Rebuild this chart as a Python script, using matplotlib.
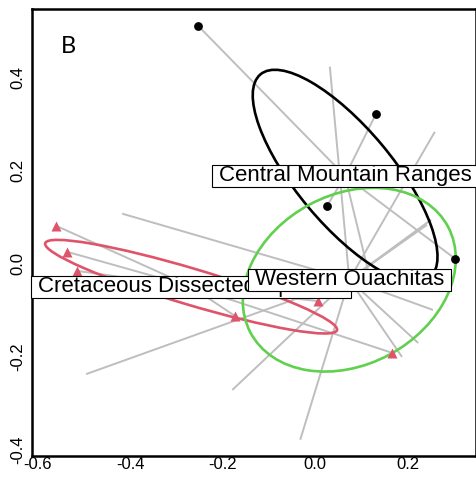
import matplotlib
matplotlib.use("Agg")
import matplotlib.pyplot as plt
from matplotlib.patches import Ellipse
from matplotlib.path import Path

# site scores, one pair of lists per region
cmr_x = [-0.253, 0.132, 0.026, 0.303, 0.117]
cmr_y = [0.512, 0.323, 0.125, 0.011, -0.024]

cdu_x = [-0.560, -0.536, -0.515, -0.173, 0.166, 0.006]
cdu_y = [0.082, 0.026, -0.015, -0.112, -0.191, -0.080]

# Western Ouachitas sites are only shown through their spider legs
wo_x = [0.032, 0.259, 0.242, 0.251, -0.417, -0.495, -0.179, -0.032, 0.188, 0.223, 0.255]
wo_y = [0.424, 0.284, 0.084, 0.095, 0.108, -0.237, -0.271, -0.378, -0.200, -0.170, -0.099]

groups = ["Central Mountain Ranges", "Cretaceous Dissected Uplands", "Western Ouachitas"]
# weighted centroids (spider hubs and label anchors)
centre_x = [0.065, -0.268, 0.074]
centre_y = [0.189, -0.049, -0.034]
# dispersion ellipses: semi-axes and rotation (deg)
ell_a = [0.285, 0.329, 0.242]
ell_b = [0.104, 0.039, 0.183]
ell_angle = [-50.0, -16.5, 28.0]

x_ticks = [-0.6, -0.4, -0.2, 0.0, 0.2]
y_ticks = [-0.4, -0.2, 0.0, 0.2, 0.4]

COLS = ["#000000", "#DF536B", "#61D04F"]
SPIDER = "#BEBEBE"
FONT = "Liberation Sans"


def label_box(x0, y0, width, height, mutation_size):
    # white label box, wide on the sides and tight top/bottom
    px = 0.3 * mutation_size
    py = 0.03 * mutation_size
    verts = [(x0 - px, y0 - py), (x0 + width + px, y0 - py),
             (x0 + width + px, y0 + height + py), (x0 - px, y0 + height + py),
             (x0 - px, y0 - py)]
    return Path(verts, closed=True)


fig = plt.figure(figsize=(4.77, 4.90), dpi=100)
ax = fig.add_axes([32 / 477, 1 - 456 / 490, 444 / 477, 447 / 490])
ax.set_xlim(-0.612, 0.348)
ax.set_ylim(-0.413, 0.548)

site_x = [cmr_x, cdu_x, wo_x]
site_y = [cmr_y, cdu_y, wo_y]

# spider legs from each centroid
for g in range(3):
    for sx, sy in zip(site_x[g], site_y[g]):
        ax.plot([centre_x[g], sx], [centre_y[g], sy], color=SPIDER, lw=1.4,
                solid_capstyle="butt", zorder=1)

ax.plot(cmr_x, cmr_y, "o", color=COLS[0], ms=5.3, zorder=3)
ax.plot(cdu_x, cdu_y, "^", color=COLS[1], ms=7, mec="none", zorder=3)

for g in range(3):
    ax.add_patch(Ellipse((centre_x[g], centre_y[g]), 2 * ell_a[g], 2 * ell_b[g],
                         angle=ell_angle[g], fill=False, ec=COLS[g], lw=1.9, zorder=2))

# labels, Western Ouachitas last so it sits on top
for g, z in zip([1, 0, 2], [5, 6, 7]):
    ax.text(centre_x[g], centre_y[g], groups[g], ha="center", va="center",
            fontsize=16, family=FONT, zorder=z, clip_on=False,
            bbox=dict(boxstyle=label_box, fc="white", ec="black", lw=0.8))

ax.text(0.081, 0.915, "B", transform=ax.transAxes, ha="center", va="center",
        fontsize=17, family="Lato")

ax.set_xticks(x_ticks)
ax.set_xticklabels([f"{v:.1f}" for v in x_ticks], family=FONT, fontsize=12)
ax.set_yticks(y_ticks)
ax.set_yticklabels([f"{v:.1f}" for v in y_ticks], family=FONT, fontsize=12,
                   rotation=90, va="center")
ax.tick_params(axis="x", length=0, pad=1)
ax.tick_params(axis="y", length=0, pad=5)
for s in ax.spines.values():
    s.set_linewidth(1.8)

fig.savefig("out.png", dpi=100)
